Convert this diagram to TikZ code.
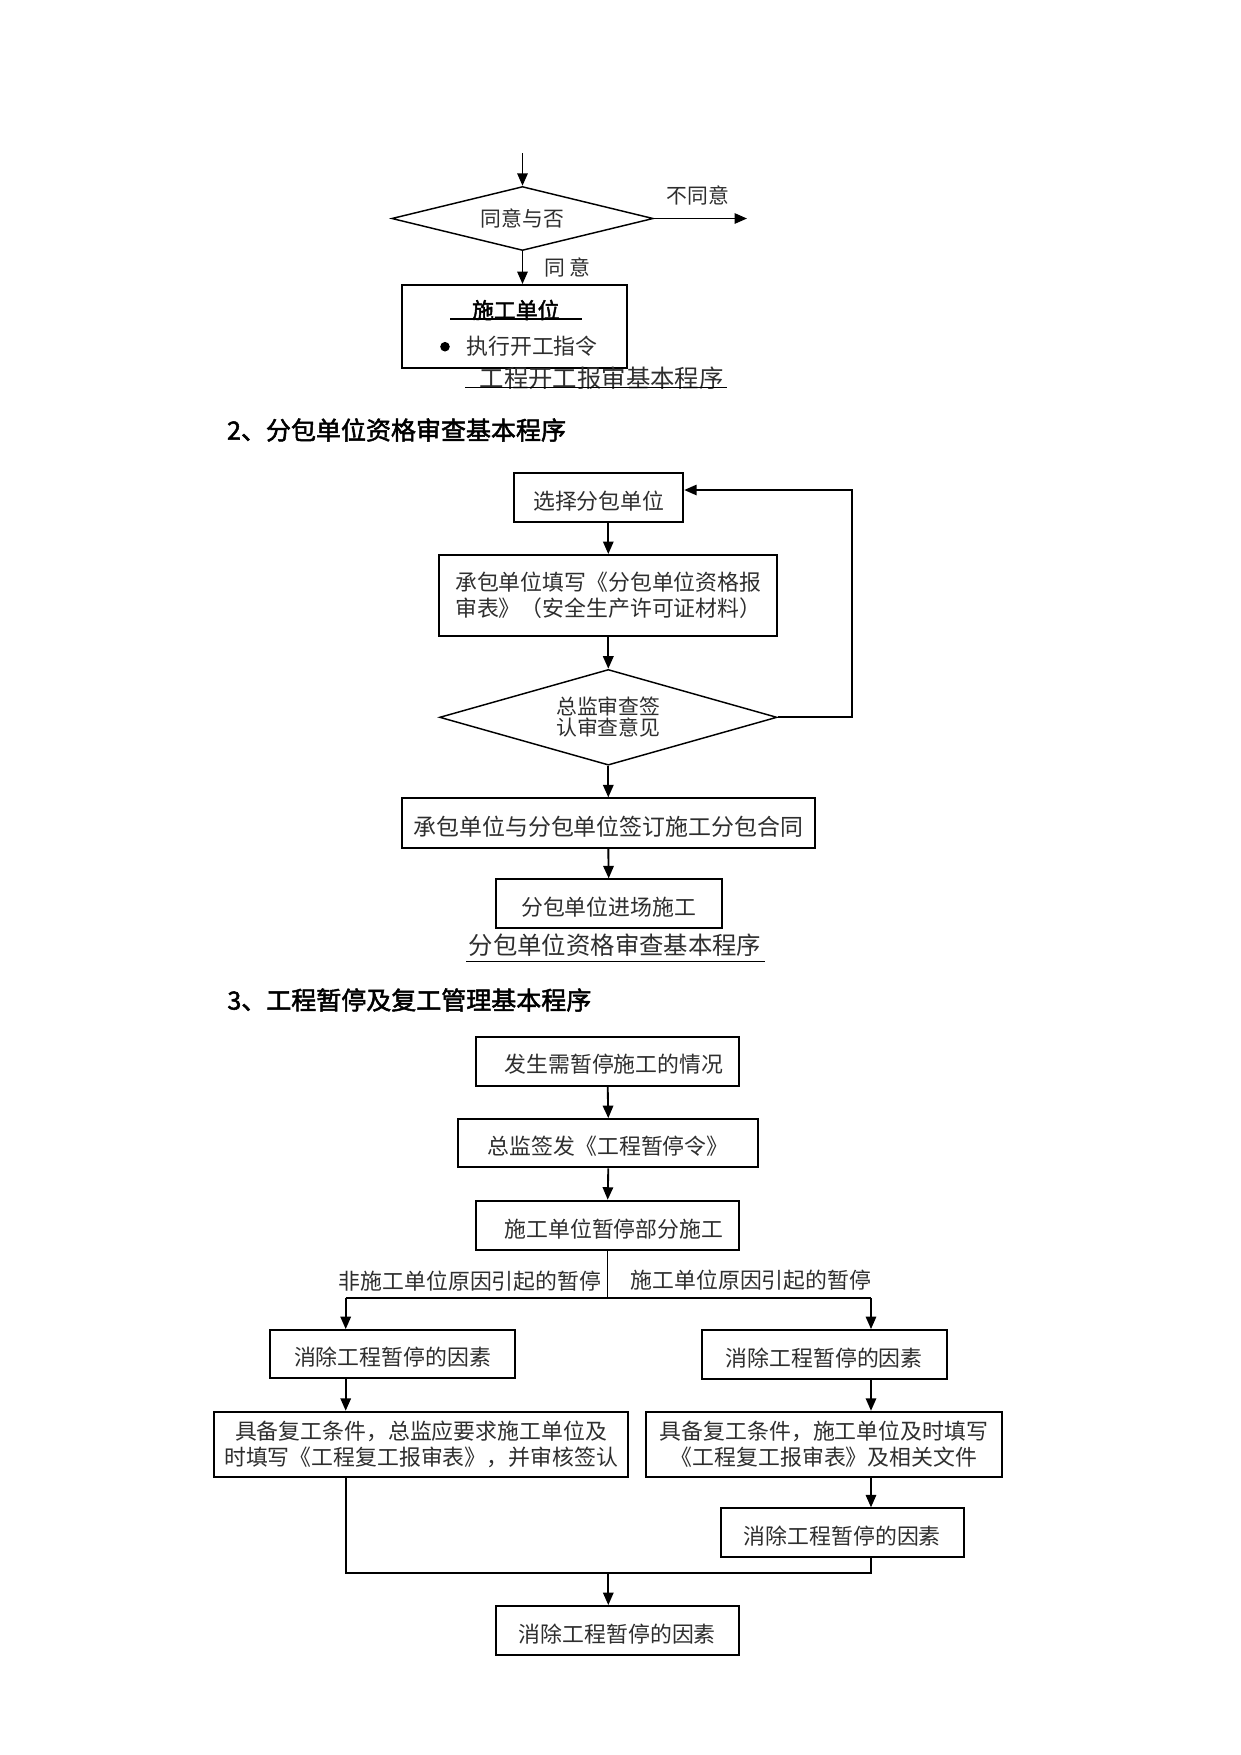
\documentclass[tikz,border=0pt]{standalone}
\usepackage{fontspec}
\newfontfamily\cjk{Noto Sans CJK SC}[AutoFakeBold=2]
\usetikzlibrary{shapes.geometric,arrows.meta}
\newcommand\lw[1]{\raisebox{-1.6pt}[\height][\depth]{#1}}
\begin{document}
\begin{tikzpicture}[x=0.48pt,y=-0.48pt,
  txt/.style={font=\cjk\fontsize{10.5}{12.3}\selectfont, text=black!82, inner sep=0pt},
  box/.style={draw=black, line width=0.9pt, txt, align=center},
  dia/.style={draw=black, line width=0.7pt, diamond, txt, align=center},
  wh/.style 2 args={minimum width={#1*0.48pt}, minimum height={#2*0.48pt}},
  arr/.style={line width=0.9pt, -{Triangle[length=6pt,width=5pt]}},
  ln/.style={line width=0.9pt},
  thinln/.style={line width=0.5pt},
  uline/.style={line width=0.6pt},
  head/.style={font=\cjk\fontsize{12}{14}\selectfont\bfseries, inner sep=0pt, anchor=west},
  captxt/.style={font=\cjk\fontsize{11.7}{14}\selectfont, text=black!82, inner sep=0pt},
  smalltxt/.style={font=\cjk\fontsize{10}{12}\selectfont},
]
\fill[white] (0,0) rectangle (1241,1755);
\useasboundingbox (0,0) rectangle (1241,1755);

% ---------- Section 1 ----------
\coordinate (top1) at (522.5,153);
\node[dia, shape aspect=4.08, wh={261.5}{64}, smalltxt] (d1) at (522.5,218.5) {同意与否};
\draw[arr] (top1) -- (d1.north);
\coordinate (no1) at (747,218.5);
\draw[arr] (d1.east) -- (no1);
\node[txt, smalltxt] (lno) at (697.8,195) {不同意};
\node[draw=black, line width=0.9pt, wh={225}{82.7}, inner sep=0pt] (b1) at (514.2,326.3) {};
\draw[arr] (d1.south) -- (d1.south |- b1.north);
\node[txt, smalltxt] (lyes) at (567.5,267) {同\ 意};
\node[txt, text=black] (b1t) at (515.8,310) {\bfseries 施工单位};
\draw[uline] (450,319) -- (581.7,319);
\node[circle, fill=black, inner sep=0pt, minimum size=4.6pt] (bul) at (445,346.7) {};
\node[txt] (b1u) at (532,346) {执行开工指令};
\node[captxt] (cap1) at (601.7,378) {工程开工报审基本程序};
\draw[uline] (465,387.7) -- (726.7,387.7);

% ---------- Section 2 ----------
\node[head] (h2) at (226.7,430) {2、分包单位资格审查基本程序};
\node[box, wh={169}{49}] (s1) at (598.8,497.8) {\lw{选择分包单位}};
\node[box, wh={338}{80.7}] (s2) at (608.3,595.3) {承包单位填写《分包单位资格报\\审表》（安全生产许可证材料）};
\node[dia, shape aspect=3.53, wh={337.4}{95.7}, font=\cjk\fontsize{10}{10}\selectfont] (d2) at (608.3,717.3) {总监审查签\\认审查意见};
\node[box, wh={413.3}{49.4}, font=\cjk\fontsize{11}{13}\selectfont] (s3) at (608.3,823) {\lw{承包单位与分包单位签订施工分包合同}};
\node[box, wh={226}{49}] (s4) at (608.7,903.8) {\lw{分包单位进场施工}};
\node[captxt] (cap2) at (615,945) {分包单位资格审查基本程序};
\draw[uline] (466,961.7) -- (765,961.7);
\draw[arr] (s2.north |- s1.south) -- (s2.north);
\draw[arr] (s2.south) -- (d2.north);
\draw[arr] (d2.south) -- (s3.north);
\draw[arr] (s3.south) -- (s4.north);
\coordinate (fb) at (851.7,490);
\draw[arr] (d2.east) -| (fb) -- (s1.east |- fb);

% ---------- Section 3 ----------
\node[head] (h3) at (227,1000) {3、工程暂停及复工管理基本程序};
\node[box, wh={263.3}{49}] (A) at (607.7,1061.2) {\lw{\hspace*{6pt}发生需暂停施工的情况}};
\node[box, wh={300}{48.3}] (B) at (608.3,1143.2) {\lw{总监签发《工程暂停令》}};
\node[box, wh={263.3}{49.3}] (C) at (607.7,1225.3) {\lw{\hspace*{6pt}施工单位暂停部分施工}};
\draw[arr] (A.south) -- (B.north);
\draw[arr] (B.south) -- (C.north);
\coordinate (sp) at (608.5,1298.3);
\coordinate (spl) at (345.7,1298.3);
\coordinate (spr) at (871,1298.3);
\draw[thinln] (C.south) -- (C.south |- sp);
\node[txt] (L1) at (470,1281) {非施工单位原因引起的暂停};
\node[txt] (L2) at (751,1280) {施工单位原因引起的暂停};
\node[box, wh={245}{48.3}] (DL) at (392.5,1354.2) {\lw{消除工程暂停的因素}};
\node[box, wh={245}{49}] (DR) at (824.2,1354.5) {\lw{消除工程暂停的因素}};
\node[box, wh={413.4}{65}] (EL) at (421,1444.2) {具备复工条件，总监应要求施工单位及\\时填写《工程复工报审表》，并审核签认};
\node[box, wh={356.6}{65}] (ER) at (824,1444.2) {具备复工条件，施工单位及时填写\\《工程复工报审表》及相关文件};
\node[box, wh={243.3}{49}] (F) at (842.4,1532.8) {\lw{消除工程暂停的因素}};
\node[box, wh={243.3}{49}] (G) at (617.4,1630.5) {\lw{消除工程暂停的因素}};
\coordinate (jl) at (345.7,1573.3);
\coordinate (jr) at (871,1573.3);
\coordinate (jm) at (608.3,1573.3);
\draw[ln] (spl) -- (spr);
\draw[arr] (spl) -- (spl |- DL.north);
\draw[arr] (spr) -- (spr |- DR.north);
\draw[arr] (spl |- DL.south) -- (spl |- EL.north);
\draw[arr] (spr |- DR.south) -- (spr |- ER.north);
\draw[arr] (spr |- ER.south) -- (spr |- F.north);
\draw[ln] (spl |- EL.south) -- (jl) -- (jr) -- (jr |- F.south);
\draw[arr] (jm) -- (jm |- G.north);
\end{tikzpicture}
\end{document}
